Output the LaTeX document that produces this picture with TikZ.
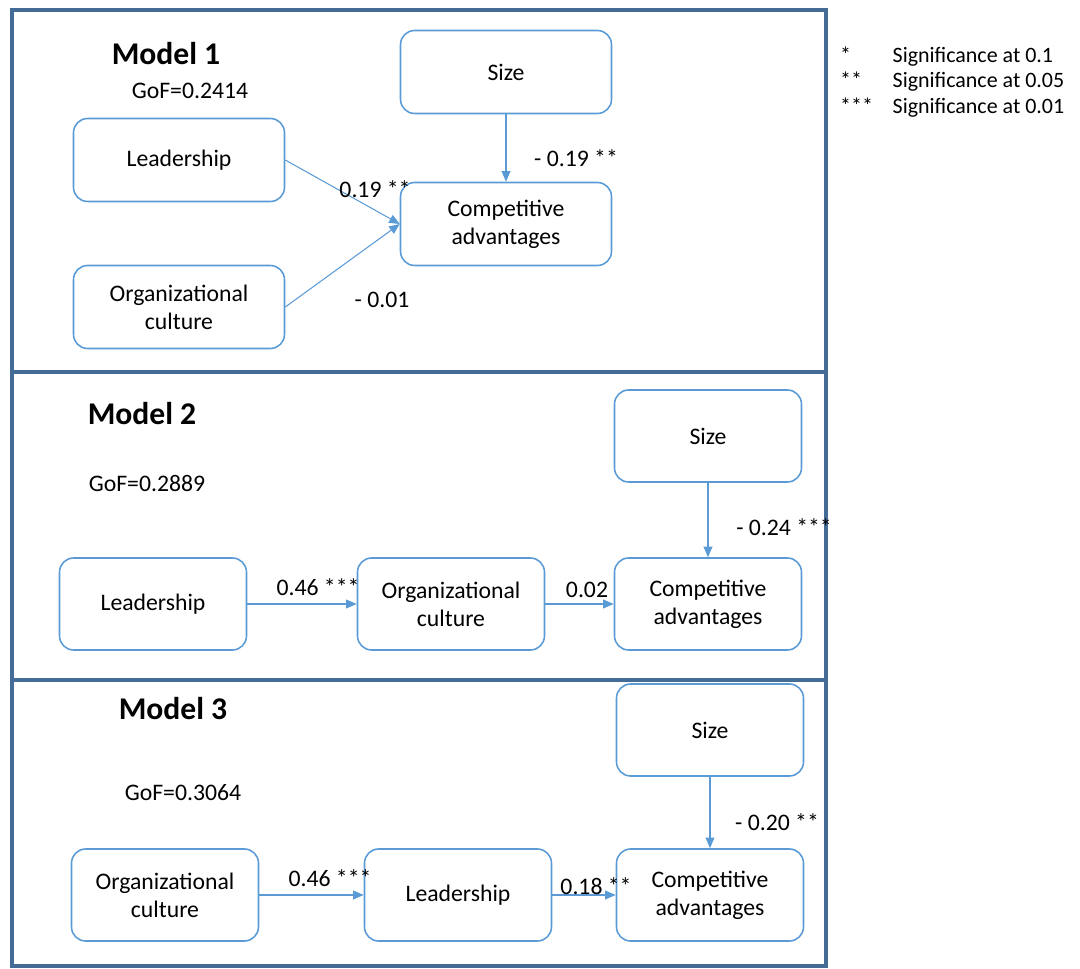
\documentclass[tikz,border=0pt]{standalone}
\usepackage{fontspec}
\setmainfont{Carlito}
\usetikzlibrary{arrows.meta}
\definecolor{boxblue}{RGB}{91,155,213}
\definecolor{frameblue}{RGB}{68,108,150}

\begin{document}
\begin{tikzpicture}[x=0.02cm,y=-0.02cm,
        every node/.style = {font=\fontsize{13.5}{16}\selectfont, align=center},
        box/.style = {draw=boxblue, line width=0.9pt, rounded corners=8pt,
            minimum width=4.22cm, minimum height=1.66cm},
        tallbox/.style = {box, minimum width=3.74cm, minimum height=1.84cm},
        arr/.style = {draw=boxblue, line width=0.6pt, -{Triangle[length=6pt,width=5pt]}},
        modeltitle/.style = {font=\fontsize{18}{20}\selectfont\bfseries},
        panel/.style = {draw=frameblue, line width=2pt}]
    \useasboundingbox (0,0) rectangle (1080,969);
    \draw[panel] (12,10) rectangle (826,372);
    \draw[panel] (12,372) rectangle (826,680);
    \draw[panel] (12,680) rectangle (826,966);

    % model 1
    \node[modeltitle] (title1) at (166,54) {Model 1};
    \node (gof1) at (190,91) {GoF=0.2414};
    \node[box] (size1) at (506,72) {Size};
    \node[box] (lead1) at (179,160) {Leadership};
    \node[box] (ca1) at (506,224) {Competitive\\advantages};
    \node[box] (oc1) at (179,307) {Organizational\\culture};
    \draw[arr] (size1) -- (ca1);
    \draw[arr] (lead1.east) -- (ca1.west);
    \draw[arr] (oc1.east) -- (ca1.west);
    \node (w11) at (375,189) {0.19 **};
    \node (w12) at (382,300) {- 0.01};
    \node (w13) at (576,158) {- 0.19 **};

    % model 2
    \node[modeltitle] (title2) at (142,414) {Model 2};
    \node (gof2) at (147,483) {GoF=0.2889};
    \node[tallbox] (size2) at (708,436) {Size};
    \node[tallbox] (lead2) at (153,604) {Leadership};
    \node[tallbox] (oc2) at (451,604) {Organizational\\culture};
    \node[tallbox] (ca2) at (708,604) {Competitive\\advantages};
    \draw[arr] (lead2) -- (oc2);
    \draw[arr] (oc2) -- (ca2);
    \draw[arr] (size2) -- (ca2);
    \node (w21) at (318,587) {0.46 ***};
    \node (w22) at (587,590) {0.02};
    \node (w23) at (784,527) {- 0.24 ***};

    % model 3
    \node[modeltitle] (title3) at (173,709) {Model 3};
    \node (gof3) at (183,793) {GoF=0.3064};
    \node[tallbox] (size3) at (710,730) {Size};
    \node[tallbox] (oc3) at (165,895) {Organizational\\culture};
    \node[tallbox] (lead3) at (458,895) {Leadership};
    \node[tallbox] (ca3) at (710,895) {Competitive\\advantages};
    \draw[arr] (oc3) -- (lead3);
    \draw[arr] (lead3) -- (ca3);
    \draw[arr] (size3) -- (ca3);
    \node (w31) at (330,878) {0.46 ***};
    \node (w32) at (596,886) {0.18 **};
    \node (w33) at (777,822) {- 0.20 **};

    % legend
    \node[anchor=north west, align=left, font=\fontsize{12.5}{14.6}\selectfont] (legend) at (834,38)
        {\begin{tabular}{@{}p{1.05cm}@{}l@{}}
            {*} & Significance at 0.1\\
            {**} & Significance at 0.05\\
            {***} & Significance at 0.01
        \end{tabular}};
\end{tikzpicture}
\end{document}
